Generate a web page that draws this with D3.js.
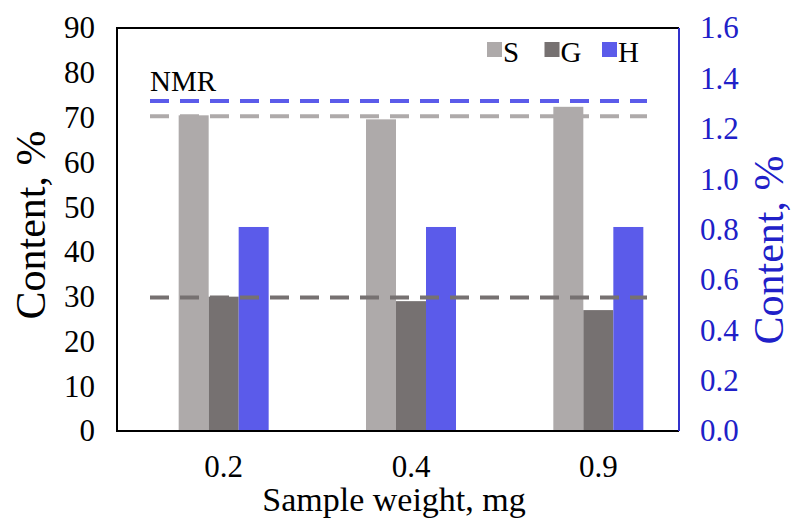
<!DOCTYPE html>
<html>
<head>
<meta charset="utf-8">
<script src="https://cdn.jsdelivr.net/npm/d3@7"></script>
<style>
  body { margin: 0; background: #fff; }
  text { font-family: "Liberation Serif", "Times New Roman", serif; }
</style>
</head>
<body>
<script>
// data
var weights = ["0.2", "0.4", "0.9"];
var series = ["S", "G", "H"];
var sValues = [70.5, 69.6, 72.4];
var gValues = [30.0, 29.0, 27.0];
var hValues = [0.81, 0.81, 0.81];   // right axis
var nmrS = 70.3, nmrG = 29.8, nmrH = 1.31;
var leftTicks = [0, 10, 20, 30, 40, 50, 60, 70, 80, 90];
var rightTicks = [0, 0.2, 0.4, 0.6, 0.8, 1.0, 1.2, 1.4, 1.6];

var colors = { S: "#aeaaaa", G: "#767171", H: "#5b5bea" };
var blue = "#2020c8";

var width = 792, height = 522;
var pLeft = 117, pRight = 679, pTop = 28, pBottom = 431;

var svg = d3.select("body").append("svg")
    .attr("width", width)
    .attr("height", height);

var x = d3.scaleBand()
    .domain(weights)
    .range([pLeft + 13, pRight + 13]);

var xSub = d3.scaleBand()
    .domain(series)
    .range([x.bandwidth() / 2 - 45, x.bandwidth() / 2 + 45]);

var y = d3.scaleLinear().domain([0, 90]).range([pBottom, pTop]);
var y2 = d3.scaleLinear().domain([0, 1.6]).range([pBottom, pTop]);

var rows = weights.map(function(w, i) {
    return { w: w, S: sValues[i], G: gValues[i], H: hValues[i] };
});

// bars
var groups = svg.selectAll(".grp")
    .data(rows)
    .enter().append("g")
    .attr("class", "grp")
    .attr("transform", function(d) { return "translate(" + x(d.w) + ",0)"; });

groups.selectAll("rect")
    .data(function(d) {
        return series.map(function(k) { return { k: k, v: d[k] }; });
    })
    .enter().append("rect")
    .attr("x", function(d) { return xSub(d.k); })
    .attr("width", xSub.bandwidth())
    .attr("y", function(d) { return d.k == "H" ? y2(d.v) : y(d.v); })
    .attr("height", function(d) { return d.k == "H" ? pBottom - y2(d.v) : pBottom - y(d.v); })
    .attr("fill", function(d) { return colors[d.k]; });

// NMR reference lines
var refs = [
    { v: y(nmrS), c: colors.S },
    { v: y(nmrG), c: colors.G },
    { v: y2(nmrH), c: colors.H }
];
svg.selectAll(".ref")
    .data(refs)
    .enter().append("line")
    .attr("class", "ref")
    .attr("x1", pLeft + 33).attr("x2", pRight - 32)
    .attr("y1", function(d) { return d.v; })
    .attr("y2", function(d) { return d.v; })
    .attr("stroke", function(d) { return d.c; })
    .attr("stroke-width", 4)
    .attr("stroke-dasharray", "19,11");

svg.append("text")
    .attr("x", pLeft + 33).attr("y", 91)
    .attr("font-size", 29)
    .text("NMR");

// frame
svg.append("path")
    .attr("d", "M" + pRight + "," + pTop + "H" + pLeft + "V" + pBottom + "H" + pRight)
    .attr("fill", "none")
    .attr("stroke", "#000")
    .attr("stroke-width", 2);
svg.append("line")
    .attr("x1", pRight).attr("x2", pRight)
    .attr("y1", pTop).attr("y2", pBottom)
    .attr("stroke", "#3333cc")
    .attr("stroke-width", 2);

// axes
var yAxis = svg.append("g")
    .attr("transform", "translate(" + pLeft + ",0)")
    .call(d3.axisLeft(y).tickValues(leftTicks).tickSize(0).tickPadding(22));
yAxis.select(".domain").remove();
yAxis.selectAll("text").attr("font-size", 31).attr("fill", "#000")
    .attr("font-family", "Liberation Serif, serif");

var y2Axis = svg.append("g")
    .attr("transform", "translate(" + pRight + ",0)")
    .call(d3.axisRight(y2).tickValues(rightTicks).tickSize(0).tickPadding(21)
        .tickFormat(d3.format(".1f")));
y2Axis.select(".domain").remove();
y2Axis.selectAll("text").attr("font-size", 31).attr("fill", blue)
    .attr("font-family", "Liberation Serif, serif");

var xAxis = svg.append("g")
    .attr("transform", "translate(0," + pBottom + ")")
    .call(d3.axisBottom(x).tickSize(0).tickPadding(24));
xAxis.select(".domain").remove();
xAxis.selectAll("text").attr("font-size", 31).attr("fill", "#000")
    .attr("font-family", "Liberation Serif, serif");

// titles
svg.append("text")
    .attr("x", (pLeft + pRight) / 2 - 4).attr("y", 511)
    .attr("text-anchor", "middle")
    .attr("font-size", 34)
    .text("Sample weight, mg");

svg.append("text")
    .attr("transform", "translate(45,225) rotate(-90)")
    .attr("text-anchor", "middle")
    .attr("font-size", 42)
    .text("Content, %");

svg.append("text")
    .attr("transform", "translate(783,250) rotate(-90)")
    .attr("text-anchor", "middle")
    .attr("font-size", 42)
    .attr("fill", blue)
    .text("Content, %");

// legend
var leg = svg.selectAll(".leg")
    .data(series)
    .enter().append("g")
    .attr("class", "leg")
    .attr("transform", function(d, i) { return "translate(" + (487 + i * 57.5) + ",42)"; });
leg.append("rect")
    .attr("width", 15).attr("height", 15)
    .attr("fill", function(d) { return colors[d]; });
leg.append("text")
    .attr("x", 16).attr("y", 20)
    .attr("font-size", 29)
    .text(function(d) { return d; });
</script>
</body>
</html>
